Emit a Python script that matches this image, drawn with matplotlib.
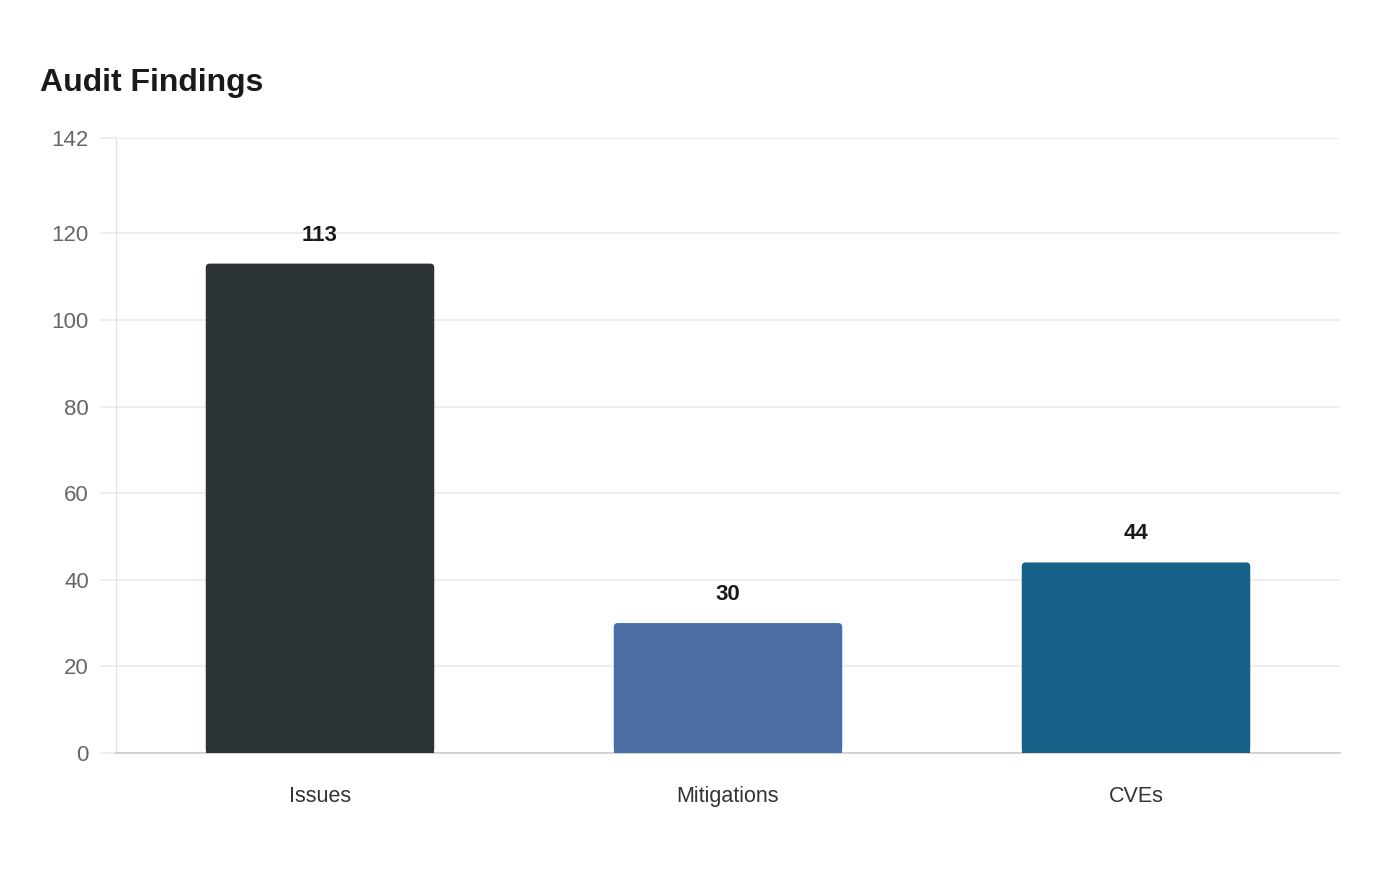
import matplotlib.pyplot as plt
from matplotlib.patches import FancyBboxPatch

plt.rcParams['font.family'] = ['Liberation Sans', 'DejaVu Sans']

categories = ['Issues', 'Mitigations', 'CVEs']
values = [113, 30, 44]
colors = ['#2d3437', '#4a6ea3', '#176189']
y_ticks = [0, 20, 40, 60, 80, 100, 120, 142]

fig = plt.figure(figsize=(14, 8.8), dpi=100)
ax = fig.add_axes([116/1400, 127/880, 1224/1400, 615/880])

x = list(range(len(categories)))
bw = 0.56
for i, v in enumerate(values):
    # rounded top, square bottom
    p = FancyBboxPatch((i - bw/2, 0), bw, v,
                       boxstyle='round,pad=0,rounding_size=0.01',
                       mutation_aspect=94, fc=colors[i], ec='none', zorder=3)
    ax.add_patch(p)
    ax.bar(i, min(v, 2), width=bw, color=colors[i], zorder=3)
    ax.annotate(str(v), (i, v), xytext=(0, 13), textcoords='offset points',
                ha='center', va='bottom', fontsize=16, fontweight='bold',
                color='#1a1a1a')

ax.set_xlim(-0.5, 2.5)
ax.set_ylim(0, 142)
ax.set_yticks(y_ticks)
ax.set_xticks(x)
ax.set_xticklabels(categories)
ax.grid(axis='y', color='#ebebeb', linewidth=1.2, zorder=0)
ax.tick_params(axis='y', length=11.5, color='#ebebeb', width=1.2,
               labelsize=16, labelcolor='#666666', pad=8)
ax.tick_params(axis='x', length=0, labelsize=15.5, labelcolor='#333333', pad=23.5)
for s in ['top', 'right']:
    ax.spines[s].set_visible(False)
ax.spines['left'].set_color('#e0e0e0')
ax.spines['bottom'].set_color('#cccccc')
ax.spines['bottom'].set_linewidth(1.2)

fig.text(40/1400, (880-91)/880, 'Audit Findings', fontsize=23,
         fontweight='bold', color='#1a1a1a', va='baseline')

fig.savefig('out.png', dpi=100, facecolor='white')
